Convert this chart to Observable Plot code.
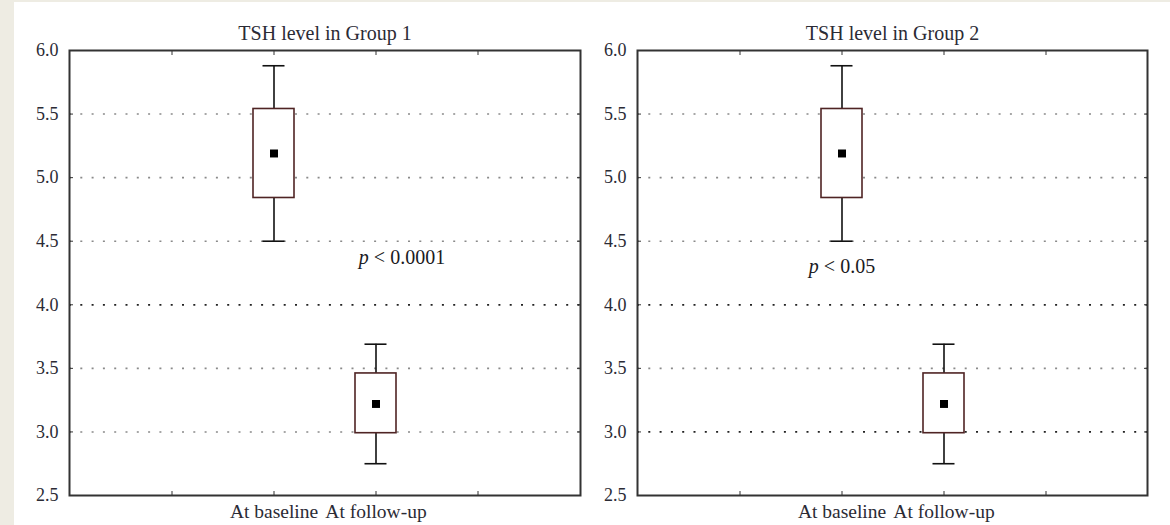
<!DOCTYPE html>
<html><head><meta charset="utf-8">
<script src="https://cdn.jsdelivr.net/npm/d3@7"></script>
<script src="https://cdn.jsdelivr.net/npm/@observablehq/plot@0.6"></script>
<style>
body{margin:0;background:#eeece3;width:1170px;height:525px;overflow:hidden;position:relative;font-family:"Liberation Serif",serif}
#sheet{position:absolute;left:14px;top:2px;right:0;bottom:0;background:#fff}
.panel{position:absolute;top:0}
</style></head><body>
<div id="sheet"></div>
<div id="p1" class="panel" style="left:0px"></div>
<div id="p2" class="panel" style="left:590px"></div>
<script>
// categories and (blank) tick slots on the x axis
const xSlots = ["", "At baseline", "At follow-up", " "];
const categories = ["At baseline", "At follow-up"];
const yTicks = [2.5, 3.0, 3.5, 4.0, 4.5, 5.0, 5.5, 6.0];
const gridValues = [3.0, 3.5, 4.0, 4.5, 5.0, 5.5];

// Group 1 box summaries
const g1Max  = [5.88, 3.69];
const g1Q3   = [5.54, 3.46];
const g1Mean = [5.19, 3.22];
const g1Q1   = [4.84, 2.99];
const g1Min  = [4.50, 2.75];
// Group 2 box summaries
const g2Max  = [5.88, 3.69];
const g2Q3   = [5.54, 3.46];
const g2Mean = [5.19, 3.22];
const g2Q1   = [4.84, 2.99];
const g2Min  = [4.50, 2.75];

const titles = ["TSH level in Group 1", "TSH level in Group 2"];
const pTexts = ["p < 0.0001", "p < 0.05"];
const pY = [4.37, 4.30];
const pCat = ["At follow-up", "At baseline"];
const darkGrid1 = [4.0];
const darkGrid2 = [4.0, 3.0];

function rows(mx, q3, mn, q1, mi) {
  return categories.map((c, i) => ({cat: c, max: mx[i], q3: q3[i], mean: mn[i], q1: q1[i], min: mi[i]}));
}

function panel(data, title, pText, pYv, pC, pDx, darkGrid, ml, mr, width) {
  const grid = gridValues.map(v => ({v, dark: darkGrid.includes(v)}));
  return Plot.plot({
    width, height: 525,
    marginLeft: ml, marginRight: mr, marginTop: 50, marginBottom: 30,
    style: {background: "transparent", fontFamily: "Liberation Serif, serif", color: "#2b2b35", overflow: "visible"},
    x: {type: "band", domain: xSlots, paddingInner: 0.6, paddingOuter: 0.8, label: null},
    y: {domain: [2.5, 6.0], label: null},
    marks: [
      Plot.ruleY(grid.filter(d => !d.dark), {y: "v", stroke: "#8a8a8a", strokeWidth: 1.6, strokeDasharray: "2,9.3"}),
      Plot.ruleY(grid.filter(d => d.dark), {y: "v", stroke: "#222", strokeWidth: 1.8, strokeDasharray: "2,9.3"}),
      Plot.axisY({ticks: yTicks, tickFormat: d => d.toFixed(1), tickSize: 0, tickPadding: 11, fontSize: 18, label: null}),
      Plot.axisY({anchor: "left", ticks: yTicks, tickSize: -4, tickFormat: () => "", label: null, stroke: "#333"}),
      Plot.axisY({anchor: "right", ticks: yTicks, tickSize: -4, tickFormat: () => "", label: null, stroke: "#333"}),
      Plot.axisX({anchor: "bottom", tickSize: 0, tickPadding: 9, fontSize: 19.5, label: null}),
      Plot.axisX({anchor: "bottom", tickSize: -4, tickFormat: () => "", label: null, stroke: "#333"}),
      Plot.axisX({anchor: "top", tickSize: -4, tickFormat: () => "", label: null, stroke: "#333"}),
      Plot.ruleX(data, {x: "cat", y1: "min", y2: "max", stroke: "#111", strokeWidth: 1.6}),
      Plot.tickY(data, {x: "cat", y: "max", stroke: "#111", strokeWidth: 1.6, insetLeft: 9.5, insetRight: 9.5}),
      Plot.tickY(data, {x: "cat", y: "min", stroke: "#111", strokeWidth: 1.6, insetLeft: 9.5, insetRight: 9.5}),
      Plot.barY(data, {x: "cat", y1: "q1", y2: "q3", fill: "white", stroke: "#4f2424", strokeWidth: 1.6}),
      Plot.dot(data, {x: "cat", y: "mean", symbol: "square", r: 4.5, fill: "#000", stroke: "none"}),
      Plot.text([pText], {x: () => pC, y: () => pYv, dx: pDx, text: d => d, fontSize: 20, fill: "#1a1a22"}),
      Plot.text([title], {frameAnchor: "top", dy: -11, lineAnchor: "bottom", text: d => d, fontSize: 20, fill: "#2b2b35"}),
      Plot.frame({stroke: "#333", strokeWidth: 2})
    ]
  });
}

document.getElementById("p1").appendChild(
  panel(rows(g1Max, g1Q3, g1Mean, g1Q1, g1Min), titles[0], pTexts[0], pY[0], pCat[0], 26, darkGrid1, 69, 10, 590));
document.getElementById("p2").appendChild(
  panel(rows(g2Max, g2Q3, g2Mean, g2Q1, g2Min), titles[1], pTexts[1], pY[1], pCat[1], 0, darkGrid2, 47, 23, 580));

// italic p
document.querySelectorAll("svg text").forEach(t => {
  if (/^p < /.test(t.textContent)) {
    const s = t.textContent.slice(1);
    t.textContent = "";
    const a = document.createElementNS("http://www.w3.org/2000/svg", "tspan");
    a.setAttribute("font-style", "italic"); a.textContent = "p";
    const b = document.createElementNS("http://www.w3.org/2000/svg", "tspan");
    b.textContent = s;
    t.appendChild(a); t.appendChild(b);
  }
});
</script>
</body></html>
